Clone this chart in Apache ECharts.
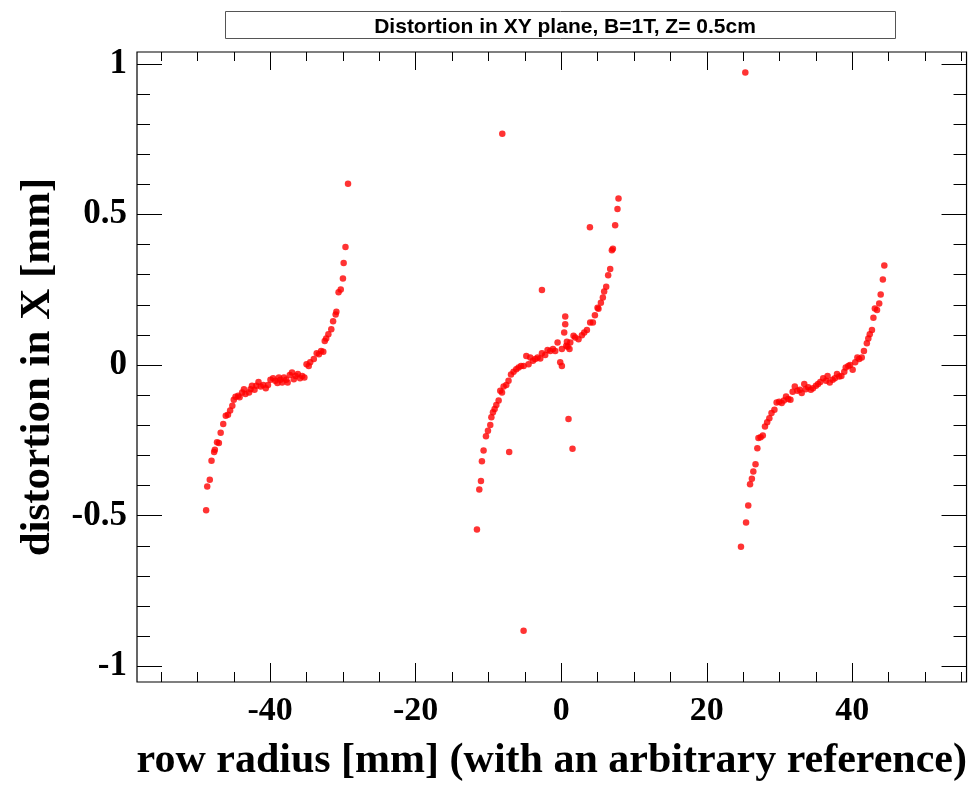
<!DOCTYPE html>
<html>
<head>
<meta charset="utf-8">
<script src="https://cdn.jsdelivr.net/npm/echarts@6/dist/echarts.min.js"></script>
<style>html,body{margin:0;padding:0;background:#fff;}#main{width:970px;height:787px;}</style>
</head>
<body>
<div id="main"></div>
<script>
// ---- data ----
var titleText = 'Distortion in XY plane, B=1T, Z= 0.5cm';
var xTitle = 'row radius [mm] (with an arbitrary reference)';
var yTitle = 'distortion in X [mm]';

var xMajorTicks = [-40, -20, 0, 20, 40];
var xMinorTicks = [-55,-50,-45,-40,-35,-30,-25,-20,-15,-10,-5,0,5,10,15,20,25,30,35,40,45,50,55];
var yMajorTicks = [-1, -0.5, 0, 0.5, 1];
var yMinorTicks = [-1,-0.9,-0.8,-0.7,-0.6,-0.5,-0.4,-0.3,-0.2,-0.1,0,0.1,0.2,0.3,0.4,0.5,0.6,0.7,0.8,0.9,1];

var clusterLeft = [
 [-48.8,-0.482],[-48.65,-0.403],[-48.3,-0.381],[-48.06,-0.318],[-47.7,-0.289],[-47.6,-0.281],
 [-47.3,-0.256],[-47.05,-0.259],[-46.8,-0.225],[-46.45,-0.196],[-46.1,-0.168],[-45.8,-0.165],
 [-45.5,-0.151],[-45.2,-0.135],[-45.0,-0.115],[-44.76,-0.105],[-44.4,-0.102],[-44.2,-0.107],
 [-43.85,-0.091],[-43.6,-0.080],[-43.4,-0.096],[-42.9,-0.091],[-42.7,-0.080],[-42.5,-0.069],
 [-42.15,-0.082],[-41.9,-0.069],[-41.6,-0.056],[-41.3,-0.071],[-40.95,-0.066],[-40.6,-0.077],
 [-40.3,-0.066],[-39.96,-0.049],[-39.6,-0.044],[-39.3,-0.052],[-39.0,-0.060],[-38.8,-0.041],
 [-38.6,-0.049],[-38.35,-0.058],[-38.1,-0.041],[-37.8,-0.049],[-37.6,-0.058],[-37.3,-0.033],
 [-37.0,-0.025],[-36.75,-0.047],[-36.5,-0.036],[-36.2,-0.030],[-35.9,-0.044],[-35.6,-0.036],
 [-35.3,-0.041],[-35.0,0.003],[-34.7,-0.003],[-34.5,0.009],[-34.0,0.020],[-33.6,0.039],
 [-33.3,0.036],[-33.0,0.047],[-32.7,0.044],[-32.5,0.080],[-32.3,0.088],[-32.0,0.102],
 [-31.6,0.119],[-31.35,0.145],[-31.0,0.168],[-30.9,0.177],[-30.6,0.242],[-30.3,0.251],
 [-30.0,0.287],[-29.9,0.339],[-29.65,0.392],[-29.3,0.602]
];

var clusterMiddle = [
 [-11.58,-0.546],[-11.26,-0.413],[-11.03,-0.385],[-10.9,-0.319],[-10.67,-0.284],[-10.34,-0.236],
 [-10.07,-0.218],[-9.75,-0.199],[-9.6,-0.173],[-9.38,-0.157],[-9.15,-0.146],[-8.92,-0.133],
 [-8.6,-0.118],[-8.38,-0.085],[-8.14,-0.091],[-7.92,-0.071],[-7.55,-0.066],[-7.24,-0.052],
 [-6.9,-0.031],[-6.55,-0.022],[-6.18,-0.014],[-5.86,-0.008],[-5.53,-0.003],[-5.17,-0.003],
 [-4.8,0.030],[-4.49,0.003],[-4.26,0.025],[-3.89,0.014],[-3.57,0.020],[-3.25,0.025],
 [-2.88,0.022],[-2.65,0.039],[-2.2,0.033],[-1.88,0.050],[-1.51,0.047],[-1.14,0.053],
 [-0.82,0.047],[-0.5,0.075],[-0.14,0.009],[0.09,-0.003],[0.09,0.053],[0.41,0.108],
 [0.55,0.135],[0.55,0.161],[0.69,0.064],[0.78,0.077],[0.87,0.061],[1.14,0.053],
 [1.24,0.075],[1.69,0.097],[1.92,0.091],[2.38,0.086],[2.84,0.099],[3.16,0.108],
 [3.53,0.116],[3.98,0.141],[4.35,0.141],[4.63,0.165],[4.99,0.190],[5.12,0.187],
 [5.45,0.207],[5.72,0.224],[5.9,0.244],[6.18,0.260],[6.45,0.298],[6.73,0.319],
 [6.96,0.381],[7.1,0.386],[7.41,0.464],[7.73,0.518],[7.87,0.553]
];

var clusterRight = [
 [24.7,-0.603],[25.4,-0.523],[25.7,-0.466],[25.95,-0.396],[26.2,-0.377],[26.4,-0.353],
 [26.7,-0.329],[26.95,-0.276],[27.1,-0.242],[27.4,-0.240],[27.7,-0.234],[28.0,-0.204],
 [28.3,-0.190],[28.6,-0.177],[28.9,-0.159],[29.3,-0.148],[29.6,-0.124],[29.95,-0.122],
 [30.3,-0.126],[30.6,-0.118],[30.9,-0.104],[31.2,-0.113],[31.5,-0.115],[31.8,-0.089],
 [32.1,-0.071],[32.45,-0.085],[32.8,-0.082],[33.05,-0.093],[33.4,-0.063],[33.6,-0.080],
 [33.95,-0.074],[34.3,-0.082],[34.6,-0.077],[35.0,-0.069],[35.3,-0.063],[35.6,-0.056],
 [36.0,-0.044],[36.4,-0.052],[36.6,-0.036],[36.9,-0.058],[37.3,-0.049],[37.6,-0.044],
 [37.9,-0.030],[38.2,-0.038],[38.5,-0.036],[38.9,-0.022],[39.1,-0.008],[39.45,-0.003],
 [39.7,0.000],[40.05,-0.016],[40.4,0.009],[40.7,0.025],[40.96,0.020],[41.3,0.025],
 [41.6,0.047],[42.0,0.072],[42.2,0.088],[42.4,0.102],[42.7,0.116],[42.9,0.157],
 [43.1,0.188],[43.4,0.183],[43.7,0.204],[43.9,0.234],[44.2,0.284],[44.4,0.330]
];

var outliers = [
 [-8.1,0.768],[-2.65,0.249],[3.94,0.457],[-7.15,-0.289],[1.0,-0.179],
 [1.55,-0.278],[-5.17,-0.882],[25.3,0.971]
];

var xMin = -58.3, xMax = 55.7;
var yMin = -1.052, yMax = 1.039;

// ---- chart ----
var serif = 'Liberation Serif, Times New Roman, serif';
var sans = 'Liberation Sans, Arial, Helvetica, sans-serif';

function xAx(pos, ticks, len, labels, extra) {
  var a = {
    type: 'value', gridIndex: 0, position: pos, min: xMin, max: xMax,
    axisLine: { show: false, onZero: false },
    splitLine: { show: false },
    axisTick: { show: true, inside: true, length: len, customValues: ticks,
                lineStyle: { color: '#000', width: 1 } },
    axisLabel: labels ? { show: true, customValues: ticks, margin: 12,
                fontFamily: serif, fontWeight: 'bold', fontSize: 34, color: '#000' }
              : { show: false }
  };
  return Object.assign(a, extra || {});
}
function yAx(pos, ticks, len, labels, extra) {
  var a = {
    type: 'value', gridIndex: 0, position: pos, min: yMin, max: yMax,
    axisLine: { show: false, onZero: false },
    splitLine: { show: false },
    axisTick: { show: true, inside: true, length: len, customValues: ticks,
                lineStyle: { color: '#000', width: 1 } },
    axisLabel: labels ? { show: true, customValues: ticks, margin: 10,
                fontFamily: serif, fontWeight: 'bold', fontSize: 35, color: '#000' }
              : { show: false }
  };
  return Object.assign(a, extra || {});
}

var chart = echarts.init(document.getElementById('main'), null, { renderer: 'canvas' });
var option = {
  animation: false,
  backgroundColor: '#fff',
  title: {
    text: titleText, left: 560, top: 12, textAlign: 'center',
    textStyle: { fontFamily: sans, fontWeight: 'bold', fontSize: 21, color: '#000' }
  },
  graphic: [{
    type: 'rect', left: 225, top: 11, z: -1,
    shape: { width: 670, height: 27 },
    style: { fill: '#fff', stroke: '#555', lineWidth: 1 }
  }],
  grid: {
    left: 137, top: 52, width: 830, height: 632,
    show: true, borderColor: '#000', borderWidth: 1.2, backgroundColor: 'transparent'
  },
  xAxis: [
    xAx('bottom', xMajorTicks, 19, true, {
      name: xTitle, nameLocation: 'middle', nameGap: 58,
      nameTextStyle: { fontFamily: serif, fontWeight: 'bold', fontSize: 42, color: '#000' }
    }),
    xAx('bottom', xMinorTicks, 10, false),
    xAx('top', xMajorTicks, 18, false),
    xAx('top', xMinorTicks, 9, false)
  ],
  yAxis: [
    yAx('left', yMajorTicks, 25, true, {
      name: yTitle, nameLocation: 'middle', nameGap: 78,
      nameTextStyle: { fontFamily: serif, fontWeight: 'bold', fontSize: 43, color: '#000' }
    }),
    yAx('left', yMinorTicks, 13, false),
    yAx('right', yMajorTicks, 25, false),
    yAx('right', yMinorTicks, 13, false)
  ],
  series: [
    { type: 'scatter', name: 'left', data: clusterLeft, symbolSize: 6.5, itemStyle: { color: '#ff0000' } },
    { type: 'scatter', name: 'middle', data: clusterMiddle, symbolSize: 6.5, itemStyle: { color: '#ff0000' } },
    { type: 'scatter', name: 'right', data: clusterRight, symbolSize: 6.5, itemStyle: { color: '#ff0000' } },
    { type: 'scatter', name: 'outliers', data: outliers, symbolSize: 6.5, itemStyle: { color: '#ff0000' } }
  ]
};
chart.setOption(option);
</script>
</body>
</html>
